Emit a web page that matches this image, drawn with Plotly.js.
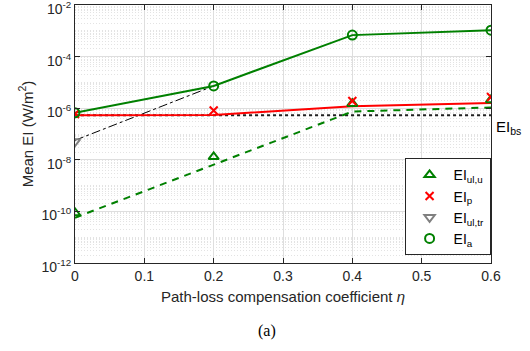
<!DOCTYPE html>
<html>
<head>
<meta charset="utf-8">
<script src="https://cdn.plot.ly/plotly-3.0.1.min.js"></script>
<style>html,body{margin:0;padding:0;background:#fff;}#chart{width:530px;height:351px;}</style>
</head>
<body>
<div id="chart"></div>
<script>
// Path-loss compensation coefficient
const eta = [0, 0.2, 0.4, 0.6];

// Simulation markers
const eiUlU_sim  = [8.7e-11, 1.3e-8, 1.5e-6, 2.1e-6];
const eiP_sim    = [6.0e-7, 8.1e-7, 1.9e-6, 2.7e-6];
const eiUlTr_sim = [5.1e-8, null, null, null];
const eiA_sim    = [6.6e-7, 7.3e-6, 6.8e-4, 1.06e-3];

// Analytical curves
const eiUlU_ana  = [5.7e-11, 6.3e-9, 7.4e-7, 1.07e-6];
const eiP_ana    = [5.3e-7, 5.4e-7, 1.2e-6, 1.6e-6];
const eiUlTr_ana = [5.7e-8, 7.3e-6, null, null];
const eiA_ana    = [6.6e-7, 7.3e-6, 6.8e-4, 1.06e-3];
const eiBs       = [5.3e-7, 5.3e-7, 5.3e-7, 5.3e-7];

// Axis ticks
const yTickVals = [1e-12, 1e-10, 1e-8, 1e-6, 1e-4, 1e-2];
const yTickText = ['10<sup>-12</sup>','10<sup>-10</sup>','10<sup>-8</sup>','10<sup>-6</sup>','10<sup>-4</sup>','10<sup>-2</sup>'];
const xTickVals = [0, 0.1, 0.2, 0.3, 0.4, 0.5, 0.6];
const xTickText = ['0','0.1','0.2','0.3','0.4','0.5','0.6'];

const minorY = [];
for (let n = -12; n < -2; n++) {
  for (let k = 1; k <= 9; k++) {
    if (k === 1 && n % 2 === 0) continue;
    minorY.push(k * Math.pow(10, n));
  }
}

const GREEN = 'rgb(0,128,0)';
const RED = 'rgb(255,0,0)';
const GRAY = 'rgb(128,128,128)';

const traces = [
  {x: eta, y: eiBs, mode: 'lines', line: {color: '#222', width: 2, dash: 'dot'}, showlegend: false, hoverinfo: 'skip'},
  {x: eta, y: eiUlU_ana, mode: 'lines', line: {color: GREEN, width: 2, dash: '7px,6px'}, showlegend: false},
  {x: eta, y: eiUlTr_ana, mode: 'lines', line: {color: '#000', width: 1, dash: 'dashdot'}, showlegend: false, connectgaps: false},
  {x: eta, y: eiA_ana, mode: 'lines', line: {color: GREEN, width: 2}, showlegend: false},
  {x: eta, y: eiP_ana, mode: 'lines', line: {color: RED, width: 2}, showlegend: false},
  {x: eta, y: eiUlU_sim, mode: 'markers', name: 'EI<sub>ul,u</sub>',
   marker: {symbol: 'triangle-up-open', size: 9, color: GREEN, line: {width: 2, color: GREEN}}},
  {x: eta, y: eiP_sim, mode: 'markers', name: 'EI<sub>p</sub>',
   marker: {symbol: 'x-thin-open', size: 8, color: RED, line: {width: 2, color: RED}}},
  {x: eta, y: eiUlTr_sim, mode: 'markers', name: 'EI<sub>ul,tr</sub>',
   marker: {symbol: 'triangle-down-open', size: 9, color: GRAY, line: {width: 2, color: GRAY}}},
  {x: eta, y: eiA_sim, mode: 'markers', name: 'EI<sub>a</sub>',
   marker: {symbol: 'circle-open', size: 9, color: GREEN, line: {width: 2, color: GREEN}}}
];

const font = {family: 'Liberation Sans, Arial, sans-serif', size: 14, color: '#262626'};

const layout = {
  width: 530, height: 351,
  margin: {l: 75, r: 39, t: 5, b: 88},
  paper_bgcolor: '#fff', plot_bgcolor: '#fff',
  font: font,
  showlegend: true,
  legend: {
    x: 0.999, xanchor: 'right', y: 0.03, yanchor: 'bottom',
    bgcolor: '#fff', bordercolor: '#262626', borderwidth: 1,
    font: {family: font.family, size: 14, color: '#000'},
    itemwidth: 38, tracegroupgap: 0
  },
  xaxis: {
    range: [0, 0.6], tickmode: 'array', tickvals: xTickVals, ticktext: xTickText,
    showgrid: true, gridcolor: '#dedede', gridwidth: 1,
    ticks: 'inside', ticklen: 5, tickcolor: '#262626',
    showline: true, linecolor: '#262626', linewidth: 1, mirror: 'ticks',
    zeroline: false,
    tickfont: {family: font.family, size: 14, color: '#262626'},
    title: {text: 'Path-loss compensation coefficient <i>η</i>', font: {family: font.family, size: 15, color: '#262626'}, standoff: 8}
  },
  yaxis: {
    type: 'log', range: [-12, -2], tickmode: 'array', tickvals: yTickVals, ticktext: yTickText,
    showgrid: true, gridcolor: '#dedede', gridwidth: 1,
    ticks: 'inside', ticklen: 5, tickcolor: '#262626',
    showline: true, linecolor: '#262626', linewidth: 1, mirror: 'ticks',
    zeroline: false, ticklabeloverflow: 'allow', ticklabelshift: 4,
    tickfont: {family: font.family, size: 14, color: '#262626'},
    minor: {tickmode: 'array', tickvals: minorY, showgrid: true, gridcolor: '#e3e3e3', griddash: '1px,2px', gridwidth: 1, ticks: ''},
    title: {text: 'Mean EI (W/m<sup>2</sup>)', font: {family: font.family, size: 15, color: '#262626'}, standoff: 4}
  },
  annotations: [
    {xref: 'paper', yref: 'y', x: 1.008, y: Math.log10(eiBs[0]), xanchor: 'left', yanchor: 'top', yshift: -1,
     text: 'EI<sub>bs</sub>', showarrow: false, font: {family: font.family, size: 15, color: '#000'}},
    {xref: 'paper', yref: 'paper', x: 0.462, y: -0.265, xanchor: 'center', yanchor: 'middle',
     text: '(a)', showarrow: false, font: {family: 'Liberation Serif, Times New Roman, serif', size: 16, color: '#000'}}
  ]
};

Plotly.newPlot('chart', traces, layout, {displayModeBar: false, staticPlot: true});
</script>
</body>
</html>
